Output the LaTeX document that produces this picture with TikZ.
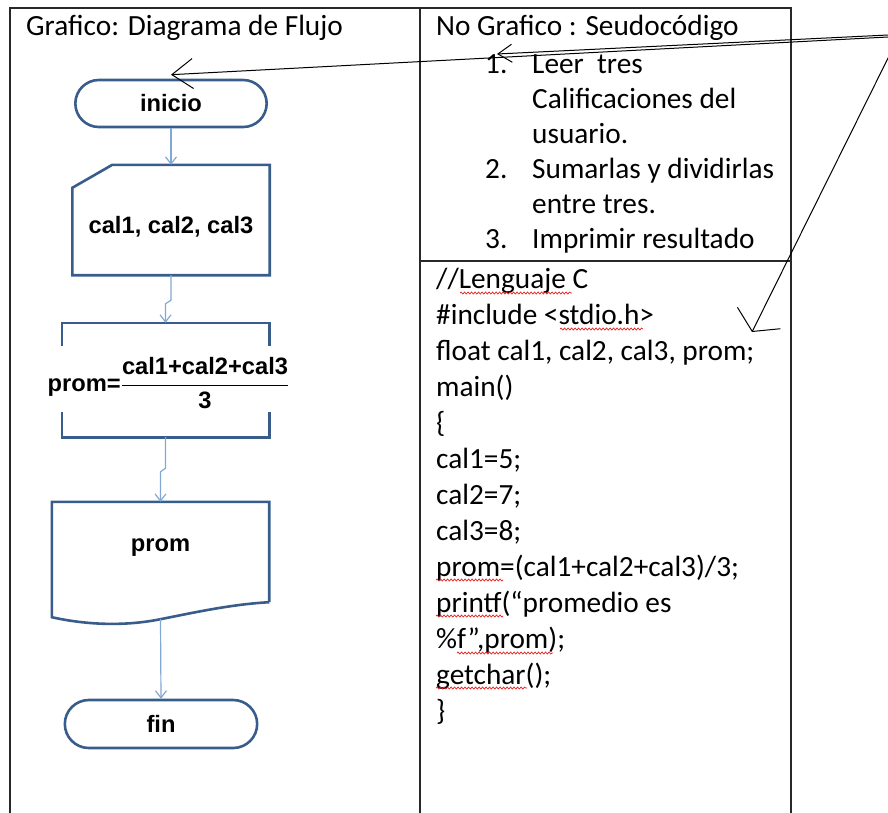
\documentclass[tikz,border=0pt]{standalone}
\usepackage{amsmath}
\usepackage{fontspec}
\usepackage{xcolor}
\usetikzlibrary{arrows.meta,shapes.misc,decorations.pathmorphing}
\newfontfamily\calibri{Carlito}
\newfontfamily\arial{Liberation Sans}
\definecolor{azulf}{RGB}{56, 93, 138}
\definecolor{azulc}{RGB}{130, 168, 212}
\definecolor{linea}{RGB}{40, 40, 40}
\definecolor{rojo}{RGB}{230, 30, 30}
\newcommand{\letra}{\calibri\fontsize{29.3}{35}\selectfont}
\newcommand{\letrafc}{\arial\bfseries\fontsize{23.7}{28}\selectfont}

\tikzset{
  texto/.style={anchor=base west, inner sep=0pt, font=\letra},
  forma/.style={draw=azulf, line width=2.6pt},
  terminal/.style={forma, rounded rectangle, font=\letrafc},
  caja/.style={inner sep=0pt},
  txtfc/.style={inner sep=0pt, font=\letrafc},
  flecha/.style={draw=azulc, line width=1.2pt, -{Straight Barb[length=7pt,width=11pt]}},
  nota/.style={draw=black, line width=1pt},
  onda/.style={draw=rojo, line width=0.7pt, decorate,
    decoration={snake, amplitude=1pt, segment length=3.5pt}}
}

\begin{document}
\begin{tikzpicture}[x=1pt, y=-1pt]
      \useasboundingbox (0,0) rectangle (888,812);
      % tabla
      \draw[linea, line width=1.8pt] (10,820) -- (10,8) -- (791,8) -- (791,820);
      \draw[linea, line width=1.8pt] (420,8) -- (420,820);
      \draw[linea, line width=1.8pt] (420,261) -- (791,261);
      \node[texto] (encab-izq) at (26,35) {Grafico: Diagrama de Flujo};
      \node[texto] (encab-der) at (436,35) {No Grafico : Seudocódigo};

      % diagrama de flujo
      \node[terminal, minimum width=198pt, minimum height=47pt] (inicio) at (171,103.5) {inicio};
      \node[caja, minimum width=197pt, minimum height=110pt] (leer) at (171,220) {};
      \node[txtfc] (leer-t) at ([yshift=-7pt]leer.center) {cal1, cal2, cal3};
      \draw[forma] ([yshift=-23pt]leer.north west) -- ([xshift=40pt]leer.north west)
        -- (leer.north east) -- (leer.south east) -- (leer.south west) -- cycle;
      \node[caja, minimum width=207pt, minimum height=114pt] (calc) at (165.5,380) {};
      \node[txtfc] (calc-t) at ([xshift=3pt,yshift=-3pt]calc.center)
        {prom=$\dfrac{\text{cal1+cal2+cal3}}{\text{3}}$};
      \draw[forma] ([yshift=-23pt]calc.north west) -- (calc.north west)
        -- (calc.north east) -- ([yshift=-23pt]calc.north east);
      \draw[forma] ([yshift=25pt]calc.south west) -- (calc.south west)
        -- (calc.south east) -- ([yshift=25pt]calc.south east);
      \node[caja, minimum width=217pt, minimum height=117pt] (mostrar) at (160.5,560.5) {};
      \node[txtfc] (mostrar-t) at ([yshift=13pt]mostrar.center) {prom};
      \draw[forma] ([yshift=17pt]mostrar.south east) -- (mostrar.north east)
        -- (mostrar.north west) -- ([yshift=2pt]mostrar.south west)
        .. controls +(36pt,-8pt) and +(-35pt,-7pt) .. (mostrar.south)
        .. controls +(35pt,7pt) and +(-37pt,-2pt) .. ([yshift=17pt]mostrar.south east);
      \node[terminal, minimum width=199pt, minimum height=48pt] (fin) at (161,724) {fin};

      \draw[flecha] (inicio.south) -- (leer.north);
      \draw[flecha] (leer.south) -- ++(0,25) -- ([yshift=19pt]calc.north) -- (calc.north);
      \draw[flecha] (calc.south) -- ++(0,31) -- ([yshift=30pt]mostrar.north) -- (mostrar.north);
      \draw[flecha] (mostrar.south) -- (fin.north);

      % seudocodigo
      \node[texto] (n1) at (485,73) {1.};
      \node[texto] (p1) at (532,73) {Leer \ tres};
      \node[texto] (p1b) at (532,108) {Calificaciones del};
      \node[texto] (p1c) at (532,143) {usuario.};
      \node[texto] (n2) at (485,178) {2.};
      \node[texto] (p2) at (532,178) {Sumarlas y dividirlas};
      \node[texto] (p2b) at (532,213) {entre tres.};
      \node[texto] (n3) at (485,248) {3.};
      \node[texto] (p3) at (532,248) {Imprimir resultado};

      % lenguaje C
      \node[texto] (c1) at (436,288) {//Lenguaje C};
      \node[texto] (c2) at (436,324) {\#include <stdio.h>};
      \node[texto] (c3) at (436,360) {float cal1, cal2, cal3, prom;};
      \node[texto] (c4) at (436,396) {main()};
      \node[texto] (c5) at (436,432) {\{};
      \node[texto] (c6) at (436,468) {cal1=5;};
      \node[texto] (c7) at (436,504) {cal2=7;};
      \node[texto] (c8) at (436,540) {cal3=8;};
      \node[texto] (c9) at (436,576) {prom=(cal1+cal2+cal3)/3;};
      \node[texto] (c10) at (436,612) {printf(“promedio es};
      \node[texto] (c11) at (436,648) {\%f”,prom);};
      \node[texto] (c12) at (436,684) {getchar();};
      \node[texto] (c13) at (436,720) {\}};
      \draw[onda] (460,293) -- (572,293);
      \draw[onda] (560,329) -- (643,329);
      \draw[onda] (436,580) -- (503,580);
      \draw[onda] (436,616) -- (503,616);
      \draw[onda] (457,653) -- (553,653);
      \draw[onda] (436,688) -- (527,688);

      % flechas de nota
      \coordinate (orig1) at (888,35);
      \coordinate (orig2) at (888,37);
      \coordinate (orig3) at (901,32);
      \coordinate (punta-lista) at (497,54);
      \coordinate (punta-codigo) at (752,332);
      \draw[nota, -{Straight Barb[length=14pt,width=18pt]}] (orig1) -- (punta-lista);
      \draw[nota, -{Straight Barb[length=21pt,width=30pt]}] (orig2) -- ([yshift=4pt]inicio.north);
      \draw[nota, -{Straight Barb[length=15pt,width=48pt]}] (orig3) -- (punta-codigo);
    \end{tikzpicture}
\end{document}
